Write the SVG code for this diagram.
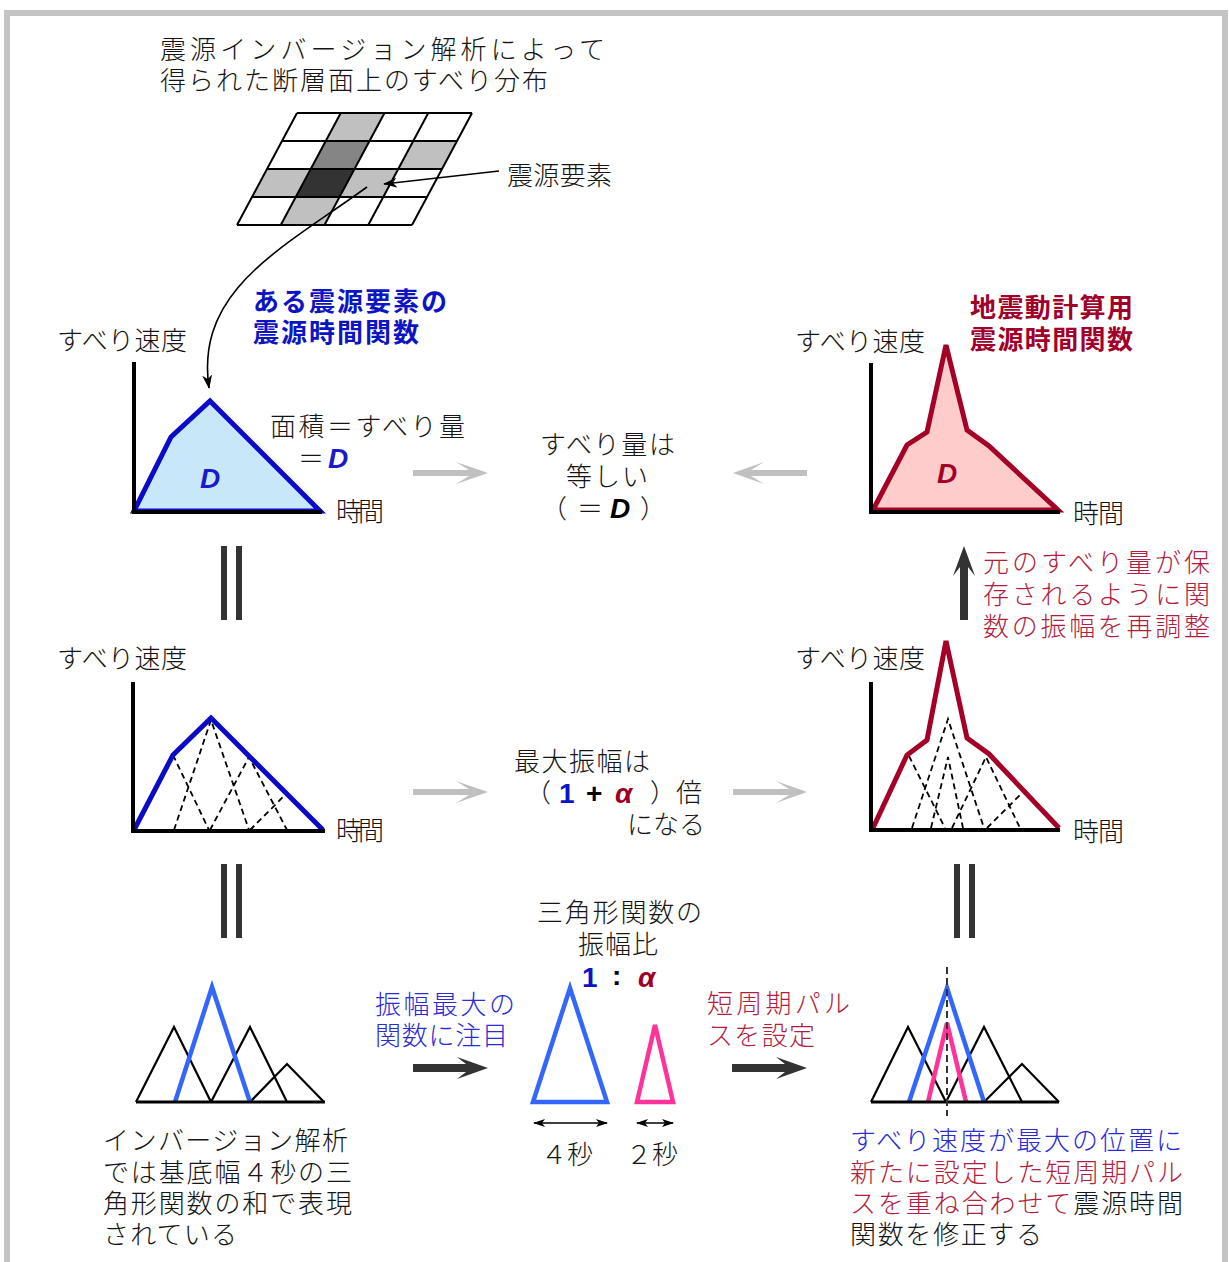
<svg xmlns="http://www.w3.org/2000/svg" width="1229" height="1262" viewBox="0 0 1229 1262">
<defs>
<style>
.t{font-family:"Noto Sans CJK JP","Noto Sans",sans-serif;font-size:26px;fill:#151515;font-weight:300}
.bb{font-family:"Noto Sans CJK JP","Noto Sans",sans-serif;font-size:26px;font-weight:bold;fill:#0c14c4}
.rb{font-family:"Noto Sans CJK JP","Noto Sans",sans-serif;font-size:26px;font-weight:bold;fill:#a0002a}
.blue{fill:#2a2ad6}
.red{fill:#b01e40}
.sym{font-family:"Liberation Sans",Arial,sans-serif;font-weight:bold;font-size:28px}
.it{font-style:italic}
.axis{fill:none;stroke:#000;stroke-width:4}
.dash{fill:none;stroke:#000;stroke-width:1.8;stroke-dasharray:6 4}
.tri{fill:none;stroke:#000;stroke-width:2.2;stroke-linejoin:miter}
.tb{fill:none;stroke:#3366ff;stroke-width:4.5}
.tp{fill:none;stroke:#ff3399;stroke-width:4.5}
.cell{stroke:none}
.grid{stroke:#000;stroke-width:2;fill:none}
.thin{fill:none;stroke:#000;stroke-width:1.6}
.bar{fill:#333}
</style>
<marker id="barb" viewBox="0 0 14 10" refX="13" refY="5" markerWidth="14" markerHeight="10" markerUnits="userSpaceOnUse" orient="auto-start-reverse">
<path d="M0,0 L14,5 L0,10 L4,5 z" fill="#000"/>
</marker>
<marker id="barbs" viewBox="0 0 12 8" refX="11" refY="4" markerWidth="12" markerHeight="8" markerUnits="userSpaceOnUse" orient="auto-start-reverse">
<path d="M0,0 L12,4 L0,8 L3,4 z" fill="#000"/>
</marker>
</defs>
<rect x="0" y="0" width="1229" height="1262" fill="#fff"/>
<rect x="7" y="13" width="1218" height="1300" fill="#fff" stroke="#c4c4c4" stroke-width="6"/>

<g id="title">
<text class="t" x="160" y="59" textLength="445" lengthAdjust="spacing">震源インバージョン解析によって</text>
<text class="t" x="160" y="90" textLength="388" lengthAdjust="spacing">得られた断層面上のすべり分布</text>
</g>

<g id="fault-grid">
<polygon class="cell" fill="#c0c0c0" points="340.75,113 384.5,113 369.5,141 325.75,141"/>
<polygon class="cell" fill="#858585" points="325.75,141 369.5,141 354.5,169 310.75,169"/>
<polygon class="cell" fill="#c0c0c0" points="413.25,141 457,141 442,169 398.25,169"/>
<polygon class="cell" fill="#c0c0c0" points="267,169 310.75,169 295.75,197 252,197"/>
<polygon class="cell" fill="#333333" points="310.75,169 354.5,169 339.5,197 295.75,197"/>
<polygon class="cell" fill="#c0c0c0" points="354.5,169 398.25,169 383.25,197 339.5,197"/>
<polygon class="cell" fill="#c0c0c0" points="295.75,197 339.5,197 324.5,225 280.75,225"/>
<path class="grid" d="M297,113 H472 M282,141 H457 M267,169 H442 M252,197 H427 M237,225 H412 M297,113 L237,225 M340.75,113 L280.75,225 M384.5,113 L324.5,225 M428.25,113 L368.25,225 M472,113 L412,225"/>
</g>

<g id="label-element">
<text class="t" x="507" y="185" textLength="105" lengthAdjust="spacing">震源要素</text>
</g>

<g id="graph-top-left">
<text class="t" x="57" y="350" textLength="130" lengthAdjust="spacing">すべり速度</text>
<polygon points="134,511 171,437 210,401 320,511" fill="#c8e8fa" stroke="#0a0ac8" stroke-width="5" stroke-linejoin="miter"/>
<path class="axis" d="M134,362 V512 H322"/>
<text class="sym it" x="210" y="488" text-anchor="middle" fill="#1a1acc">D</text>
<text class="t" x="336" y="521" textLength="48" lengthAdjust="spacing">時間</text>
<text class="t" x="270" y="436" textLength="195" lengthAdjust="spacing">面積＝すべり量</text>
<text class="t" x="298" y="468">＝</text>
<text class="sym it" x="328" y="468" fill="#1a1acc">D</text>
</g>

<g id="label-blue-top">
<text class="bb" x="253" y="311" textLength="194" lengthAdjust="spacing">ある震源要素の</text>
<text class="bb" x="253" y="342" textLength="166" lengthAdjust="spacing">震源時間関数</text>
</g>

<g id="mid-equal">
<text class="t" x="540" y="454" textLength="135" lengthAdjust="spacing">すべり量は</text>
<text class="t" x="566" y="486" textLength="82" lengthAdjust="spacing">等しい</text>
<text class="t" x="541" y="518">（</text>
<text class="t" x="577" y="518">＝</text>
<text class="sym it" x="610" y="518" fill="#000">D</text>
<text class="t" x="640" y="518">）</text>
</g>

<g id="graph-top-right">
<text class="t" x="795" y="351" textLength="130" lengthAdjust="spacing">すべり速度</text>
<polygon points="873,510 907,445 927,432 946,345 967,430 989,446 1058,510" fill="#ffcccc" stroke="#a50026" stroke-width="5" stroke-linejoin="miter"/>
<path class="axis" d="M871,363 V512 H1060"/>
<text class="sym it" x="947" y="483" text-anchor="middle" fill="#a50026">D</text>
<text class="t" x="1073" y="523" textLength="51" lengthAdjust="spacing">時間</text>
<text class="rb" x="970" y="317" textLength="163" lengthAdjust="spacing">地震動計算用</text>
<text class="rb" x="970" y="349" textLength="163" lengthAdjust="spacing">震源時間関数</text>
</g>

<g id="label-readjust">
<text class="t red" x="983" y="572" textLength="227" lengthAdjust="spacing">元のすべり量が保</text>
<text class="t red" x="983" y="604" textLength="227" lengthAdjust="spacing">存されるように関</text>
<text class="t red" x="983" y="636" textLength="227" lengthAdjust="spacing">数の振幅を再調整</text>
</g>

<g id="graph-mid-left">
<text class="t" x="57" y="668" textLength="130" lengthAdjust="spacing">すべり速度</text>
<path class="dash" d="M173,755 L209,830 M174,830 L211,720 L249,830 M210,830 L249,757 L287,830 M250,830 L287,793"/>
<polyline points="134,830 173,755 211,718 323,830" fill="none" stroke="#0a0ac8" stroke-width="5" stroke-linejoin="miter"/>
<path class="axis" d="M133,682 V831 H325"/>
<text class="t" x="336" y="840" textLength="48" lengthAdjust="spacing">時間</text>
</g>

<g id="mid-amplitude">
<text class="t" x="525" y="802">（</text>
<text class="t" x="514" y="771" textLength="136" lengthAdjust="spacing">最大振幅は</text>
<text class="sym" x="559" y="803" fill="#0a14c4">1</text>
<text class="sym" x="586" y="803" fill="#000">+</text>
<text class="sym it" x="615" y="803" fill="#a00026">α</text>
<text class="t" x="650" y="802">）倍</text>
<text class="t" x="627" y="834" textLength="78" lengthAdjust="spacing">になる</text>
</g>

<g id="graph-mid-right">
<text class="t" x="795" y="668" textLength="130" lengthAdjust="spacing">すべり速度</text>
<path class="dash" d="M909,756 L945,828 M912,828 L948,719 L984,828 M931,828 L948,757 L963,828 M952,828 L986,757 L1020,828 M987,828 L1022,793"/>
<polyline points="873,828 907,755 927,740 946,641 967,738 989,754 1059,828" fill="none" stroke="#a50026" stroke-width="5" stroke-linejoin="miter"/>
<path class="axis" d="M871,682 V830 H1060"/>
<text class="t" x="1073" y="841" textLength="51" lengthAdjust="spacing">時間</text>
</g>

<g id="bottom-left-sum">
<polyline class="tri" points="136,1102 174,1027 211,1102"/>
<polyline class="tri" points="211,1102 250,1027 287,1102"/>
<polyline class="tri" points="250,1102 287,1064 324,1102"/>
<polyline class="tb" points="175,1102 212,987 250,1102"/>
<path d="M136,1102 H325" stroke="#000" stroke-width="3"/>
<text class="t" x="103" y="1150" textLength="245" lengthAdjust="spacing">インバージョン解析</text>
<text class="t" x="103" y="1182" textLength="249" lengthAdjust="spacing">では基底幅４秒の三</text>
<text class="t" x="103" y="1213" textLength="249" lengthAdjust="spacing">角形関数の和で表現</text>
<text class="t" x="103" y="1244" textLength="134" lengthAdjust="spacing">されている</text>
</g>

<g id="label-focus">
<text class="t blue" x="375" y="1014" textLength="140" lengthAdjust="spacing">振幅最大の</text>
<text class="t blue" x="375" y="1045" textLength="133" lengthAdjust="spacing">関数に注目</text>
</g>

<g id="bottom-mid-ratio">
<text class="t" x="537" y="922" textLength="165" lengthAdjust="spacing">三角形関数の</text>
<text class="t" x="578" y="954" textLength="80" lengthAdjust="spacing">振幅比</text>
<text class="sym" x="582" y="987" fill="#0a14c4">1</text>
<text class="sym" x="612" y="985" fill="#000">:</text>
<text class="sym it" x="638" y="987" fill="#a00026">α</text>
<polygon class="tb" points="533,1102 570,988 607,1102"/>
<polygon class="tp" points="637,1102 655,1025 673,1102"/>
<text class="t" x="541" y="1164" textLength="52" lengthAdjust="spacing">４秒</text>
<text class="t" x="626" y="1164" textLength="52" lengthAdjust="spacing">２秒</text>
</g>

<g id="label-pulse">
<text class="t red" x="707" y="1013" textLength="143" lengthAdjust="spacing">短周期パル</text>
<text class="t red" x="707" y="1045" textLength="108" lengthAdjust="spacing">スを設定</text>
</g>

<g id="bottom-right-sum">
<polyline class="tri" points="871,1102 908,1027 946,1102"/>
<polyline class="tri" points="946,1102 984,1027 1022,1102"/>
<polyline class="tri" points="984,1102 1022,1064 1059,1102"/>
<polyline class="tb" points="909,1102 947,988 984,1102"/>
<polyline class="tp" points="928,1102 947,1023 966,1102"/>
<path d="M871,1102 H1059" stroke="#000" stroke-width="3"/>
<path d="M947,967 V1116" stroke="#333" stroke-width="2" stroke-dasharray="7 4"/>
<text class="t blue" x="850" y="1150" textLength="332" lengthAdjust="spacing">すべり速度が最大の位置に</text>
<text class="t red" x="850" y="1182" textLength="333" lengthAdjust="spacing">新たに設定した短周期パル</text>
<text class="t" x="850" y="1213" textLength="333" lengthAdjust="spacing"><tspan class="red">スを重ね合わせて</tspan>震源時間</text>
<text class="t" x="850" y="1244" textLength="192" lengthAdjust="spacing">関数を修正する</text>
</g>

<g id="connectors">
<line class="thin" x1="499" y1="171" x2="384" y2="184" marker-end="url(#barb)"/>
<path class="thin" d="M367,187 C280,250 195,290 209,388" marker-end="url(#barb)"/>
<polygon fill="#c0c0c0" points="413,470 469,470 456,462 488,473 456,484 469,476 413,476"/>
<polygon fill="#c0c0c0" points="807,470 751,470 764,462 733,473 764,484 751,476 807,476"/>
<polygon fill="#c0c0c0" points="413,789 469,789 456,781 488,792 456,803 469,795 413,795"/>
<polygon fill="#c0c0c0" points="733,789 789,789 776,781 807,792 776,803 789,795 733,795"/>
<polygon fill="#333" points="413,1064 466,1064 457,1057 488,1068 457,1079 466,1072 413,1072"/>
<polygon fill="#333" points="732,1064 785,1064 776,1057 807,1068 776,1079 785,1072 732,1072"/>
<polygon fill="#333" points="960,620 960,567 953,576 964,546 975,576 968,567 968,620"/>
<rect class="bar" x="221" y="546" width="6" height="74"/>
<rect class="bar" x="236" y="546" width="6" height="74"/>
<rect class="bar" x="221" y="864" width="6" height="74"/>
<rect class="bar" x="236" y="864" width="6" height="74"/>
<rect class="bar" x="954" y="864" width="6" height="74"/>
<rect class="bar" x="969" y="864" width="6" height="74"/>
<line class="thin" x1="534" y1="1123" x2="607" y2="1123" marker-start="url(#barbs)" marker-end="url(#barbs)"/>
<line class="thin" x1="637" y1="1123" x2="673" y2="1123" marker-start="url(#barbs)" marker-end="url(#barbs)"/>
</g>
</svg>
